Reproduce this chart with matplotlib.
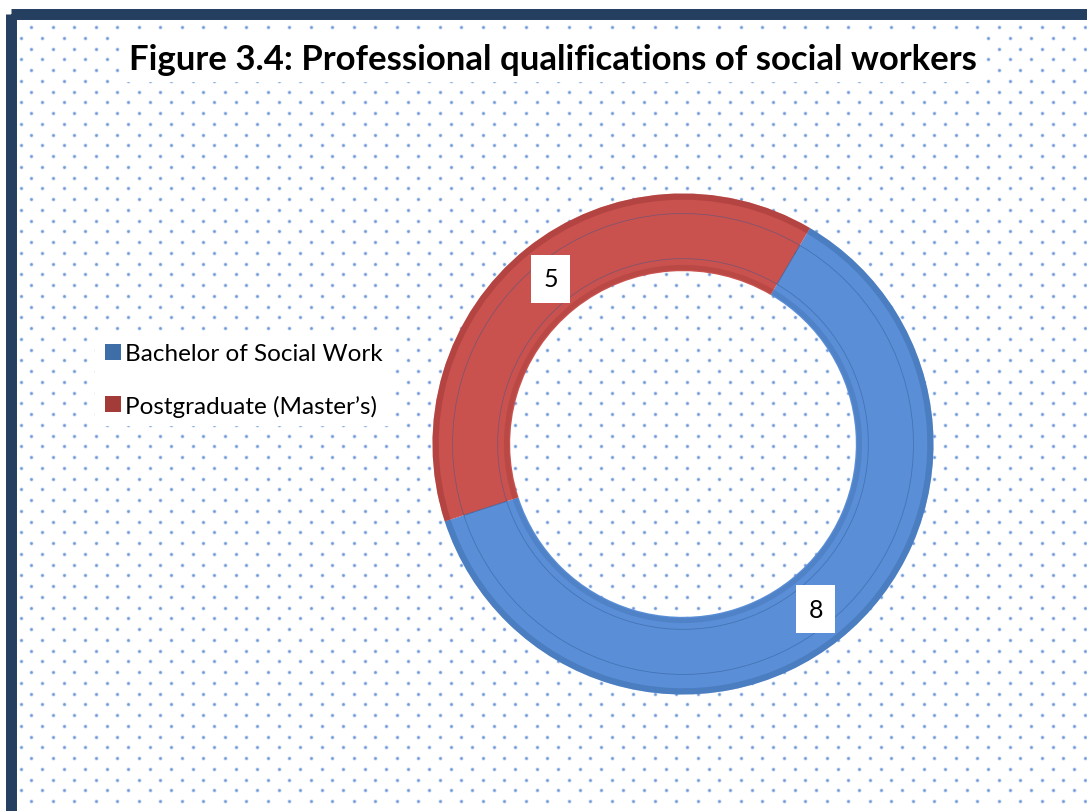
import numpy as np
import matplotlib
matplotlib.use("Agg")
import matplotlib.pyplot as plt
from matplotlib.patches import Rectangle, Patch

# ---- data ----
categories = ["Bachelor of Social Work", "Postgraduate (Master\u2019s)"]
values = [8, 5]
title = "Figure 3.4: Professional qualifications of social workers"

face_colors = ["#5a8ed6", "#c9524f"]
dark_colors = ["#3a69a8", "#9a3532"]
legend_colors = ["#3d6ea8", "#a33c39"]

W, H = 1087, 812
fig = plt.figure(figsize=(W / 100, H / 100), dpi=100)
fig.patch.set_facecolor("white")

# ---- background axes in pixel coords ----
bg = fig.add_axes([0, 0, 1, 1])
bg.set_xlim(0, W)
bg.set_ylim(H, 0)
bg.axis("off")

# decorative dotted pattern
rows = np.arange(28, H, 10.75)
xs_all, ys_all = [], []
for i, yy in enumerate(rows):
    start = 20.7 + (10.75 if i % 2 == 0 else 0)
    xx = np.arange(start, W + 5, 21.5)
    xs_all.append(xx)
    ys_all.append(np.full_like(xx, yy))
xs_all = np.concatenate(xs_all)
ys_all = np.concatenate(ys_all)
bg.scatter(xs_all, ys_all, s=9, color="#d3e0f4", linewidths=0, zorder=1)
bg.scatter(xs_all, ys_all, s=3.5, color="#6f99da", linewidths=0, zorder=2)

# frame
bg.add_patch(Rectangle((10.5, 14.5), 1081.5, 801.5, fill=False,
                       edgecolor="#253f60", linewidth=7.9, clip_on=False,
                       zorder=10, joinstyle="round"))

# title
bg.text(553, 60, title, ha="center", va="center", fontsize=25,
        fontweight="bold", family="Lato", color="black", zorder=5,
        bbox=dict(boxstyle="square,pad=0.2", facecolor="white",
                  edgecolor="none"))

# ---- donut ----
cx, cy, R = 683, 445, 253
ax = fig.add_axes([(cx - R) / W, (H - cy - R) / H, 2 * R / W, 2 * R / H])
ax.axis("off")
ax.patch.set_alpha(0)

startangle = 198
total = sum(values)

wedges, _, autotexts = ax.pie(
    values, colors=face_colors, startangle=startangle, radius=1.0,
    wedgeprops=dict(width=0.31, edgecolor="none"),
    autopct=lambda p: f"{round(p * total / 100):d}", pctdistance=0.845,
    textprops=dict(fontsize=18, family="Lato", color="black"))
for t in autotexts:
    t.set_zorder(20)
    t.set_bbox(dict(boxstyle="square,pad=0.5", facecolor="white",
                    edgecolor="none"))

# bevel-like shading: outer rim, inner rim, groove
ax.pie(values, colors=dark_colors, startangle=startangle, radius=1.0,
       wedgeprops=dict(width=0.025, edgecolor="none", alpha=0.45))
ax.pie(values, colors=dark_colors, startangle=startangle, radius=0.715,
       wedgeprops=dict(width=0.02, edgecolor="none", alpha=0.3))
ax.pie(values, colors=["none", "none"], startangle=startangle, radius=0.92,
       wedgeprops=dict(width=0.18, edgecolor="#2a5590", linewidth=0.6,
                       alpha=0.45))
ax.set_xlim(-1.01, 1.01)
ax.set_ylim(-1.01, 1.01)

# ---- legend ----
handles = [Patch(facecolor=c, edgecolor="none") for c in legend_colors]
leg = fig.legend(handles, categories, loc="center left",
                 bbox_to_anchor=(95 / W, 1 - 381 / H),
                 frameon=True, fancybox=False, facecolor="white",
                 edgecolor="none", framealpha=1, handlelength=0.65,
                 handleheight=0.65, handletextpad=0.2, labelspacing=1.25,
                 borderpad=0.4, borderaxespad=0,
                 prop=dict(family="Lato", size=17.5))
leg.set_zorder(30)

fig.savefig("out.png", dpi=100, facecolor="white")
